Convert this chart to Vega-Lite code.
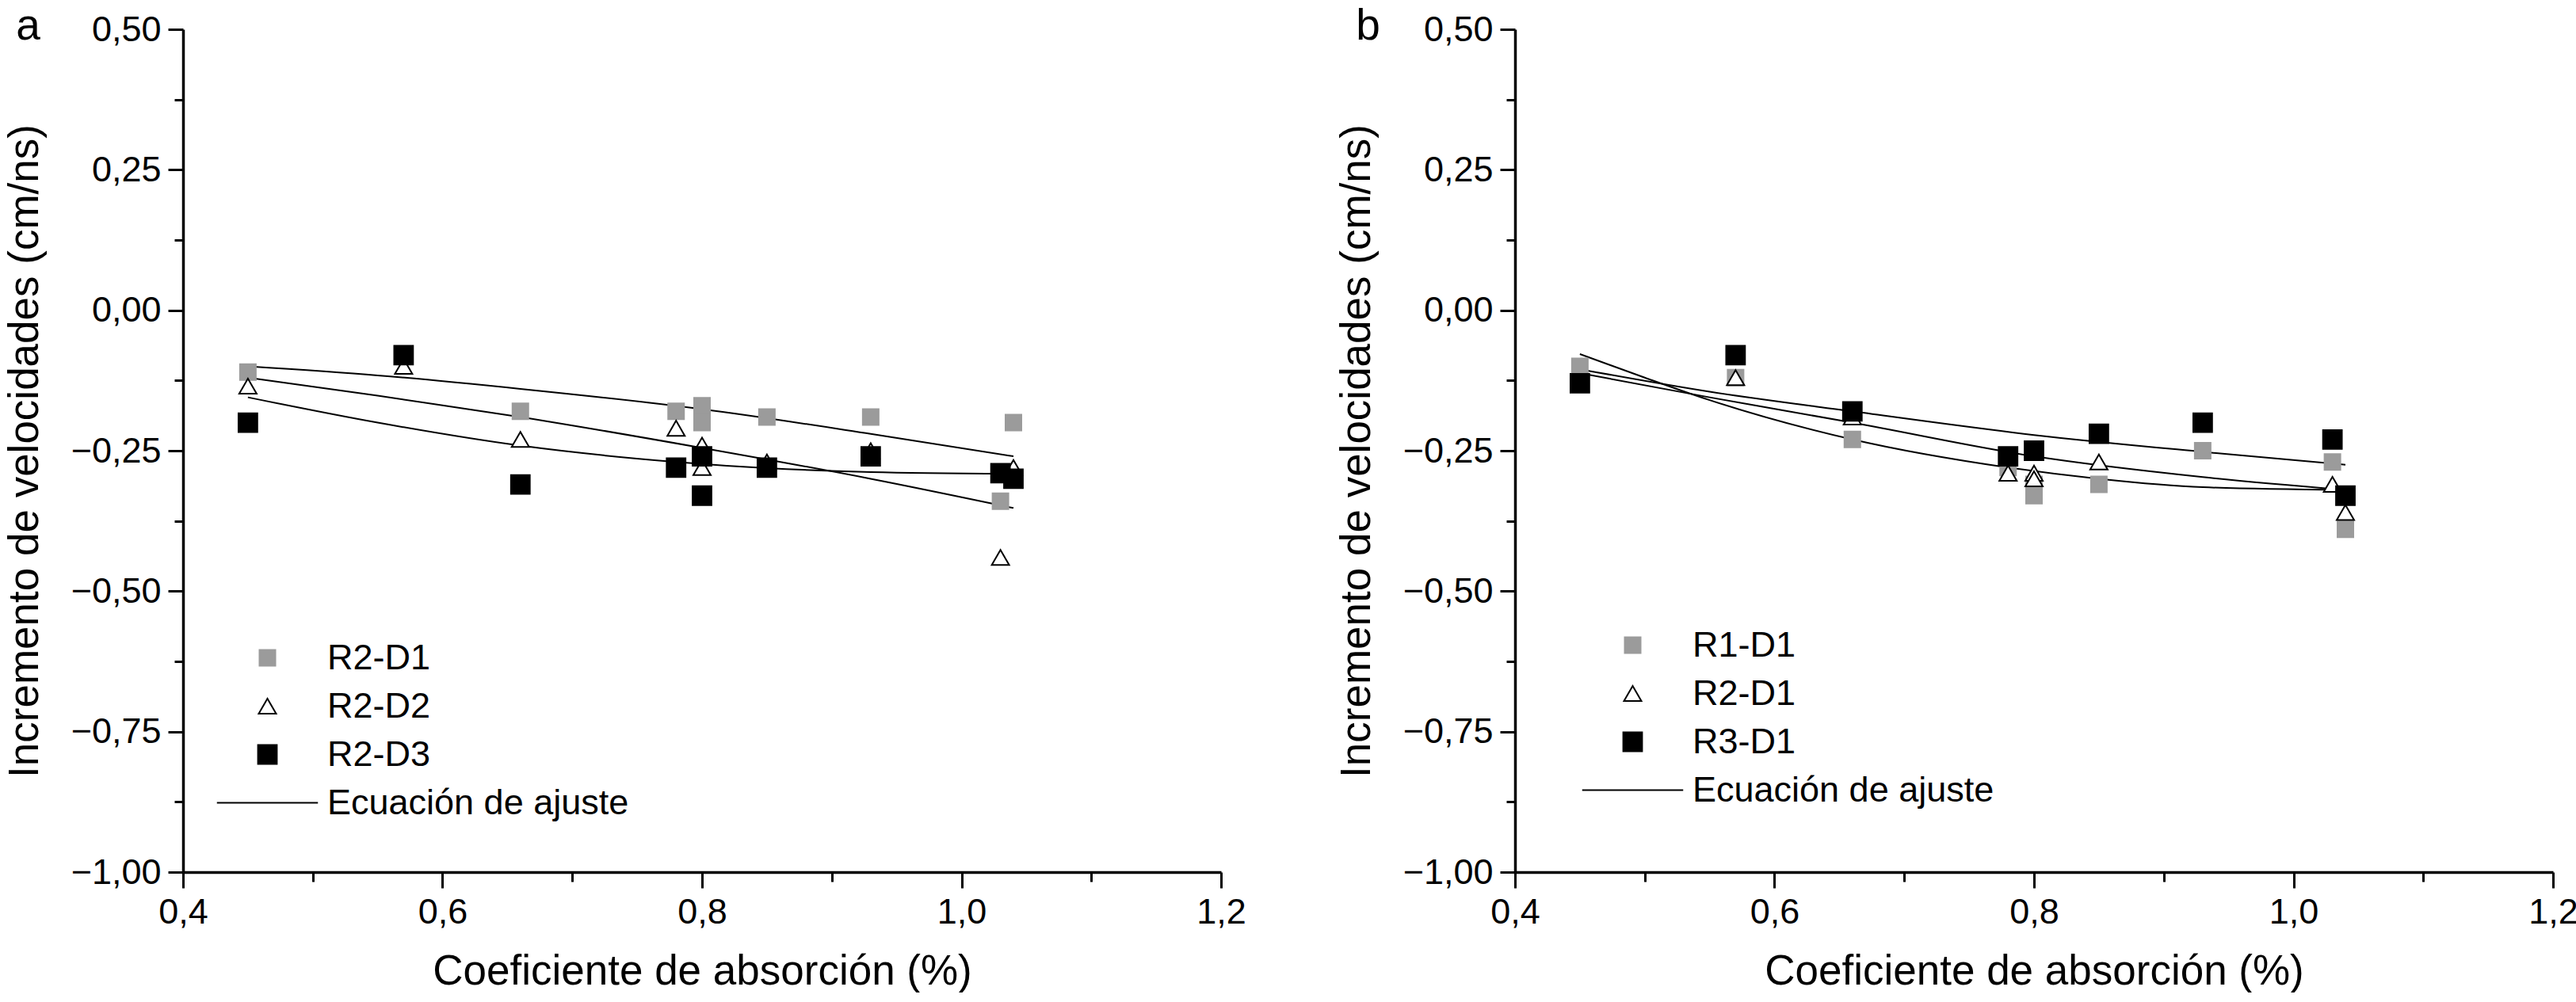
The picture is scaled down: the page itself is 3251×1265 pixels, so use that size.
{
  "$schema": "https://vega.github.io/schema/vega-lite/v6.json",
  "description": "Incremento de velocidades frente a coeficiente de absorción, paneles a y b",
  "padding": {"left": 5, "top": 6, "right": 0, "bottom": 0},
  "spacing": 113,
  "resolve": {
    "scale": {"shape": "independent", "fill": "independent", "stroke": "independent", "size": "independent"},
    "legend": {"shape": "independent", "fill": "independent", "stroke": "independent", "size": "independent"}
  },
  "config": {
    "font": "Liberation Sans",
    "view": {"stroke": null},
    "axis": {
      "grid": false,
      "domainColor": "black",
      "domainWidth": 3.5,
      "tickColor": "black",
      "tickWidth": 3,
      "labelColor": "black",
      "labelFontSize": 45,
      "labelFlush": false,
      "labelOverlap": false,
      "titleColor": "black",
      "titleFontSize": 53,
      "titleFontWeight": "normal"
    },
    "axisX": {"labelPadding": 8, "titlePadding": 26},
    "axisY": {"labelPadding": 9, "titlePadding": 31},
    "legend": {
      "orient": "none",
      "padding": 0,
      "symbolStrokeWidth": 2,
      "labelFontSize": 45,
      "labelColor": "black",
      "labelLimit": 0,
      "labelOffset": 53,
      "rowPadding": 15
    },
    "title": {
      "anchor": "start",
      "frame": "bounds",
      "fontSize": 55,
      "fontWeight": "normal",
      "color": "black",
      "offset": -47
    }
  },
  "datasets": {
    "puntos_a": [
      {"serie": "R2-D1", "absorcion": 0.45, "incremento": -0.11},
      {"serie": "R2-D1", "absorcion": 0.66, "incremento": -0.18},
      {"serie": "R2-D1", "absorcion": 0.78, "incremento": -0.18},
      {"serie": "R2-D1", "absorcion": 0.80, "incremento": -0.17},
      {"serie": "R2-D1", "absorcion": 0.80, "incremento": -0.20},
      {"serie": "R2-D1", "absorcion": 0.85, "incremento": -0.19},
      {"serie": "R2-D1", "absorcion": 0.93, "incremento": -0.19},
      {"serie": "R2-D1", "absorcion": 1.03, "incremento": -0.34},
      {"serie": "R2-D1", "absorcion": 1.04, "incremento": -0.20},
      {"serie": "R2-D2", "absorcion": 0.45, "incremento": -0.135},
      {"serie": "R2-D2", "absorcion": 0.57, "incremento": -0.10},
      {"serie": "R2-D2", "absorcion": 0.66, "incremento": -0.23},
      {"serie": "R2-D2", "absorcion": 0.78, "incremento": -0.21},
      {"serie": "R2-D2", "absorcion": 0.80, "incremento": -0.24},
      {"serie": "R2-D2", "absorcion": 0.80, "incremento": -0.28},
      {"serie": "R2-D2", "absorcion": 0.85, "incremento": -0.27},
      {"serie": "R2-D2", "absorcion": 0.93, "incremento": -0.25},
      {"serie": "R2-D2", "absorcion": 1.03, "incremento": -0.44},
      {"serie": "R2-D2", "absorcion": 1.04, "incremento": -0.28},
      {"serie": "R2-D3", "absorcion": 0.45, "incremento": -0.20},
      {"serie": "R2-D3", "absorcion": 0.57, "incremento": -0.08},
      {"serie": "R2-D3", "absorcion": 0.66, "incremento": -0.31},
      {"serie": "R2-D3", "absorcion": 0.78, "incremento": -0.28},
      {"serie": "R2-D3", "absorcion": 0.80, "incremento": -0.26},
      {"serie": "R2-D3", "absorcion": 0.80, "incremento": -0.33},
      {"serie": "R2-D3", "absorcion": 0.85, "incremento": -0.28},
      {"serie": "R2-D3", "absorcion": 0.93, "incremento": -0.26},
      {"serie": "R2-D3", "absorcion": 1.03, "incremento": -0.29},
      {"serie": "R2-D3", "absorcion": 1.04, "incremento": -0.30}
    ],
    "ajuste_a": [
      {"serie": "Ecuación de ajuste", "ajuste": "D1", "absorcion": 0.45, "incremento": -0.10},
      {"serie": "Ecuación de ajuste", "ajuste": "D1", "absorcion": 0.55, "incremento": -0.116},
      {"serie": "Ecuación de ajuste", "ajuste": "D1", "absorcion": 0.66, "incremento": -0.14},
      {"serie": "Ecuación de ajuste", "ajuste": "D1", "absorcion": 0.80, "incremento": -0.176},
      {"serie": "Ecuación de ajuste", "ajuste": "D1", "absorcion": 0.93, "incremento": -0.22},
      {"serie": "Ecuación de ajuste", "ajuste": "D1", "absorcion": 1.04, "incremento": -0.26},
      {"serie": "Ecuación de ajuste", "ajuste": "D2", "absorcion": 0.45, "incremento": -0.12},
      {"serie": "Ecuación de ajuste", "ajuste": "D2", "absorcion": 0.55, "incremento": -0.152},
      {"serie": "Ecuación de ajuste", "ajuste": "D2", "absorcion": 0.66, "incremento": -0.19},
      {"serie": "Ecuación de ajuste", "ajuste": "D2", "absorcion": 0.80, "incremento": -0.245},
      {"serie": "Ecuación de ajuste", "ajuste": "D2", "absorcion": 0.93, "incremento": -0.30},
      {"serie": "Ecuación de ajuste", "ajuste": "D2", "absorcion": 1.04, "incremento": -0.352},
      {"serie": "Ecuación de ajuste", "ajuste": "D3", "absorcion": 0.45, "incremento": -0.155},
      {"serie": "Ecuación de ajuste", "ajuste": "D3", "absorcion": 0.55, "incremento": -0.20},
      {"serie": "Ecuación de ajuste", "ajuste": "D3", "absorcion": 0.66, "incremento": -0.241},
      {"serie": "Ecuación de ajuste", "ajuste": "D3", "absorcion": 0.78, "incremento": -0.27},
      {"serie": "Ecuación de ajuste", "ajuste": "D3", "absorcion": 0.85, "incremento": -0.281},
      {"serie": "Ecuación de ajuste", "ajuste": "D3", "absorcion": 0.93, "incremento": -0.288},
      {"serie": "Ecuación de ajuste", "ajuste": "D3", "absorcion": 1.04, "incremento": -0.291}
    ],
    "puntos_b": [
      {"serie": "R1-D1", "absorcion": 0.45, "incremento": -0.10},
      {"serie": "R1-D1", "absorcion": 0.57, "incremento": -0.12},
      {"serie": "R1-D1", "absorcion": 0.66, "incremento": -0.23},
      {"serie": "R1-D1", "absorcion": 0.78, "incremento": -0.28},
      {"serie": "R1-D1", "absorcion": 0.80, "incremento": -0.33},
      {"serie": "R1-D1", "absorcion": 0.80, "incremento": -0.31},
      {"serie": "R1-D1", "absorcion": 0.85, "incremento": -0.31},
      {"serie": "R1-D1", "absorcion": 0.93, "incremento": -0.25},
      {"serie": "R1-D1", "absorcion": 1.03, "incremento": -0.27},
      {"serie": "R1-D1", "absorcion": 1.04, "incremento": -0.39},
      {"serie": "R2-D1", "absorcion": 0.45, "incremento": -0.13},
      {"serie": "R2-D1", "absorcion": 0.57, "incremento": -0.12},
      {"serie": "R2-D1", "absorcion": 0.66, "incremento": -0.19},
      {"serie": "R2-D1", "absorcion": 0.78, "incremento": -0.29},
      {"serie": "R2-D1", "absorcion": 0.80, "incremento": -0.29},
      {"serie": "R2-D1", "absorcion": 0.80, "incremento": -0.30},
      {"serie": "R2-D1", "absorcion": 0.85, "incremento": -0.27},
      {"serie": "R2-D1", "absorcion": 0.93, "incremento": -0.20},
      {"serie": "R2-D1", "absorcion": 1.03, "incremento": -0.31},
      {"serie": "R2-D1", "absorcion": 1.04, "incremento": -0.36},
      {"serie": "R3-D1", "absorcion": 0.45, "incremento": -0.13},
      {"serie": "R3-D1", "absorcion": 0.57, "incremento": -0.08},
      {"serie": "R3-D1", "absorcion": 0.66, "incremento": -0.18},
      {"serie": "R3-D1", "absorcion": 0.78, "incremento": -0.26},
      {"serie": "R3-D1", "absorcion": 0.80, "incremento": -0.25},
      {"serie": "R3-D1", "absorcion": 0.85, "incremento": -0.22},
      {"serie": "R3-D1", "absorcion": 0.93, "incremento": -0.20},
      {"serie": "R3-D1", "absorcion": 1.03, "incremento": -0.23},
      {"serie": "R3-D1", "absorcion": 1.04, "incremento": -0.33}
    ],
    "ajuste_b": [
      {"serie": "Ecuación de ajuste", "ajuste": "R3", "absorcion": 0.45, "incremento": -0.105},
      {"serie": "Ecuación de ajuste", "ajuste": "R3", "absorcion": 0.55, "incremento": -0.145},
      {"serie": "Ecuación de ajuste", "ajuste": "R3", "absorcion": 0.66, "incremento": -0.18},
      {"serie": "Ecuación de ajuste", "ajuste": "R3", "absorcion": 0.80, "incremento": -0.222},
      {"serie": "Ecuación de ajuste", "ajuste": "R3", "absorcion": 0.93, "incremento": -0.252},
      {"serie": "Ecuación de ajuste", "ajuste": "R3", "absorcion": 1.04, "incremento": -0.275},
      {"serie": "Ecuación de ajuste", "ajuste": "R2", "absorcion": 0.45, "incremento": -0.112},
      {"serie": "Ecuación de ajuste", "ajuste": "R2", "absorcion": 0.55, "incremento": -0.155},
      {"serie": "Ecuación de ajuste", "ajuste": "R2", "absorcion": 0.66, "incremento": -0.20},
      {"serie": "Ecuación de ajuste", "ajuste": "R2", "absorcion": 0.80, "incremento": -0.26},
      {"serie": "Ecuación de ajuste", "ajuste": "R2", "absorcion": 0.93, "incremento": -0.297},
      {"serie": "Ecuación de ajuste", "ajuste": "R2", "absorcion": 1.04, "incremento": -0.32},
      {"serie": "Ecuación de ajuste", "ajuste": "R1", "absorcion": 0.45, "incremento": -0.078},
      {"serie": "Ecuación de ajuste", "ajuste": "R1", "absorcion": 0.50, "incremento": -0.12},
      {"serie": "Ecuación de ajuste", "ajuste": "R1", "absorcion": 0.55, "incremento": -0.16},
      {"serie": "Ecuación de ajuste", "ajuste": "R1", "absorcion": 0.66, "incremento": -0.23},
      {"serie": "Ecuación de ajuste", "ajuste": "R1", "absorcion": 0.78, "incremento": -0.28},
      {"serie": "Ecuación de ajuste", "ajuste": "R1", "absorcion": 0.85, "incremento": -0.30},
      {"serie": "Ecuación de ajuste", "ajuste": "R1", "absorcion": 0.93, "incremento": -0.315},
      {"serie": "Ecuación de ajuste", "ajuste": "R1", "absorcion": 1.04, "incremento": -0.32}
    ]
  },
  "hconcat": [
    {
      "title": {"text": "a", "dx": 15},
      "width": 1310,
      "height": 1064,
      "encoding": {
        "x": {
          "field": "absorcion",
          "type": "quantitative",
          "scale": {"domain": [0.4, 1.2], "nice": false, "zero": false},
          "axis": {
            "title": "Coeficiente de absorción (%)",
            "values": [0.4, 0.5, 0.6, 0.7, 0.8, 0.9, 1.0, 1.1, 1.2],
            "labelExpr": "abs(datum.value*5 - round(datum.value*5)) < 0.001 ? replace(format(datum.value, '.1f'), '.', ',') : ''",
            "tickSize": {"condition": {"test": "abs(datum.value*5 - round(datum.value*5)) < 0.001", "value": 20}, "value": 12}
          }
        },
        "y": {
          "field": "incremento",
          "type": "quantitative",
          "scale": {"domain": [-1, 0.5], "nice": false, "zero": false},
          "axis": {
            "title": "Incremento de velocidades (cm/ns)",
            "values": [-1, -0.875, -0.75, -0.625, -0.5, -0.375, -0.25, -0.125, 0, 0.125, 0.25, 0.375, 0.5],
            "labelExpr": "abs(datum.value*4 - round(datum.value*4)) < 0.001 ? replace(format(datum.value, '.2f'), '.', ',') : ''",
            "tickSize": {"condition": {"test": "abs(datum.value*4 - round(datum.value*4)) < 0.001", "value": 19}, "value": 11}
          }
        }
      },
      "layer": [
        {
          "data": {"name": "ajuste_a"},
          "mark": {"type": "line", "strokeWidth": 2, "interpolate": "monotone"},
          "encoding": {
            "detail": {"field": "ajuste"},
            "stroke": {
              "field": "serie",
              "type": "nominal",
              "scale": {"domain": ["R2-D1", "R2-D2", "R2-D3", "Ecuación de ajuste"], "range": ["#9b9b9b", "black", "black", "black"]},
              "legend": {"title": null, "legendX": 84, "legendY": 771}
            }
          }
        },
        {
          "data": {"name": "puntos_a"},
          "mark": {"type": "point", "opacity": 1, "strokeWidth": 2},
          "encoding": {
            "shape": {
              "field": "serie",
              "type": "nominal",
              "scale": {"domain": ["R2-D1", "R2-D2", "R2-D3", "Ecuación de ajuste"], "range": ["square", "triangle-up", "square", "M-5,0H5"]},
              "legend": {"title": null, "legendX": 84, "legendY": 771}
            },
            "size": {
              "field": "serie",
              "type": "nominal",
              "scale": {"domain": ["R2-D1", "R2-D2", "R2-D3", "Ecuación de ajuste"], "range": [400, 650, 400, 400]},
              "legend": {"title": null, "legendX": 84, "legendY": 771}
            },
            "fill": {
              "field": "serie",
              "type": "nominal",
              "scale": {"domain": ["R2-D1", "R2-D2", "R2-D3", "Ecuación de ajuste"], "range": ["#9b9b9b", "white", "black", "white"]},
              "legend": {"title": null, "legendX": 84, "legendY": 771}
            },
            "stroke": {
              "field": "serie",
              "type": "nominal",
              "scale": {"domain": ["R2-D1", "R2-D2", "R2-D3", "Ecuación de ajuste"], "range": ["#9b9b9b", "black", "black", "black"]},
              "legend": {"title": null, "legendX": 84, "legendY": 771}
            }
          }
        }
      ]
    },
    {
      "title": {"text": "b", "dx": 25},
      "width": 1310,
      "height": 1064,
      "encoding": {
        "x": {
          "field": "absorcion",
          "type": "quantitative",
          "scale": {"domain": [0.4, 1.2], "nice": false, "zero": false},
          "axis": {
            "title": "Coeficiente de absorción (%)",
            "values": [0.4, 0.5, 0.6, 0.7, 0.8, 0.9, 1.0, 1.1, 1.2],
            "labelExpr": "abs(datum.value*5 - round(datum.value*5)) < 0.001 ? replace(format(datum.value, '.1f'), '.', ',') : ''",
            "tickSize": {"condition": {"test": "abs(datum.value*5 - round(datum.value*5)) < 0.001", "value": 20}, "value": 12}
          }
        },
        "y": {
          "field": "incremento",
          "type": "quantitative",
          "scale": {"domain": [-1, 0.5], "nice": false, "zero": false},
          "axis": {
            "title": "Incremento de velocidades (cm/ns)",
            "values": [-1, -0.875, -0.75, -0.625, -0.5, -0.375, -0.25, -0.125, 0, 0.125, 0.25, 0.375, 0.5],
            "labelExpr": "abs(datum.value*4 - round(datum.value*4)) < 0.001 ? replace(format(datum.value, '.2f'), '.', ',') : ''",
            "tickSize": {"condition": {"test": "abs(datum.value*4 - round(datum.value*4)) < 0.001", "value": 19}, "value": 11}
          }
        }
      },
      "layer": [
        {
          "data": {"name": "ajuste_b"},
          "mark": {"type": "line", "strokeWidth": 2, "interpolate": "monotone"},
          "encoding": {
            "detail": {"field": "ajuste"},
            "stroke": {
              "field": "serie",
              "type": "nominal",
              "scale": {"domain": ["R1-D1", "R2-D1", "R3-D1", "Ecuación de ajuste"], "range": ["#9b9b9b", "black", "black", "black"]},
              "legend": {"title": null, "legendX": 126, "legendY": 755}
            }
          }
        },
        {
          "data": {"name": "puntos_b"},
          "mark": {"type": "point", "opacity": 1, "strokeWidth": 2},
          "encoding": {
            "shape": {
              "field": "serie",
              "type": "nominal",
              "scale": {"domain": ["R1-D1", "R2-D1", "R3-D1", "Ecuación de ajuste"], "range": ["square", "triangle-up", "square", "M-5,0H5"]},
              "legend": {"title": null, "legendX": 126, "legendY": 755}
            },
            "size": {
              "field": "serie",
              "type": "nominal",
              "scale": {"domain": ["R1-D1", "R2-D1", "R3-D1", "Ecuación de ajuste"], "range": [400, 650, 400, 400]},
              "legend": {"title": null, "legendX": 126, "legendY": 755}
            },
            "fill": {
              "field": "serie",
              "type": "nominal",
              "scale": {"domain": ["R1-D1", "R2-D1", "R3-D1", "Ecuación de ajuste"], "range": ["#9b9b9b", "white", "black", "white"]},
              "legend": {"title": null, "legendX": 126, "legendY": 755}
            },
            "stroke": {
              "field": "serie",
              "type": "nominal",
              "scale": {"domain": ["R1-D1", "R2-D1", "R3-D1", "Ecuación de ajuste"], "range": ["#9b9b9b", "black", "black", "black"]},
              "legend": {"title": null, "legendX": 126, "legendY": 755}
            }
          }
        }
      ]
    }
  ]
}
